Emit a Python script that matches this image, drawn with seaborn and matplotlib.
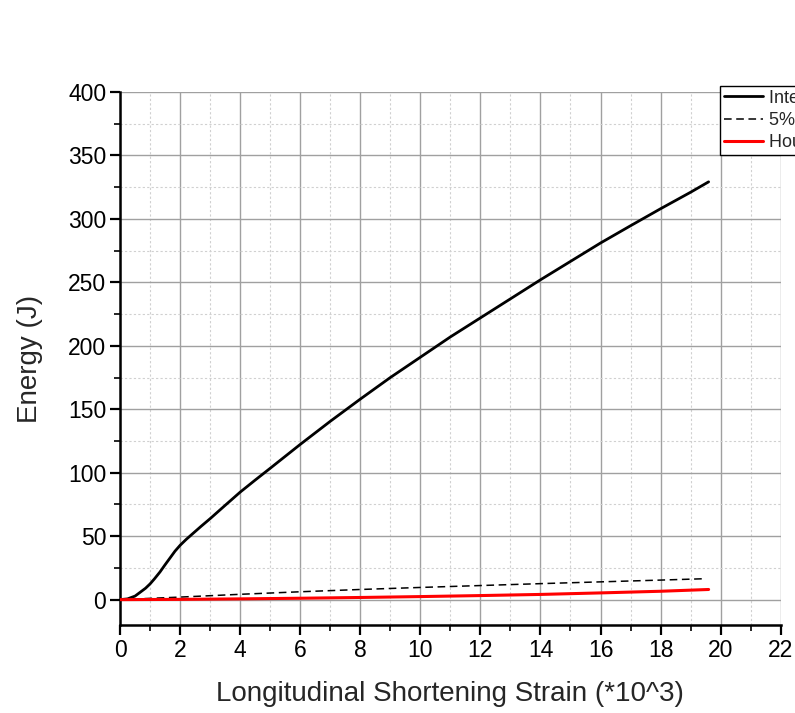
import matplotlib
matplotlib.use("Agg")
import matplotlib.pyplot as plt
import seaborn as sns
import pandas as pd
from matplotlib.ticker import MultipleLocator

# Strain (*10^3) and energies (J)
strain = [0.0, 0.25, 0.5, 0.67, 0.85, 1.0, 1.15, 1.33, 1.5, 1.67, 1.83, 2.0, 2.2, 2.44,
          2.7, 3.0, 3.5, 4.0, 4.5, 5.0, 6.0, 7.0, 8.0, 9.0, 10.0, 11.0, 12.0, 13.0,
          14.0, 15.0, 16.0, 17.0, 18.0, 19.0, 19.6]
internal = [0.0, 0.6, 2.8, 5.8, 9.0, 12.4, 16.5, 21.8, 27.5, 33.0, 38.2, 42.8, 47.4,
            52.4, 57.8, 63.8, 74.3, 84.7, 94.2, 103.5, 122.3, 140.5, 158.0, 175.0,
            191.0, 207.0, 222.0, 237.0, 252.0, 266.5, 281.0, 294.6, 308.0, 321.0, 329.2]
strain_5pct = [0.0, 2.0, 4.0, 6.0, 8.0, 10.0, 12.0, 14.0, 16.0, 18.0, 19.5]
five_pct = [0.0, 2.0, 4.2, 6.2, 8.0, 9.6, 11.1, 12.6, 14.0, 15.4, 16.5]
strain_hg = [0.0, 2.0, 4.0, 6.0, 8.0, 10.0, 12.0, 14.0, 16.0, 18.0, 19.6]
hourglass = [0.0, 0.2, 0.6, 1.1, 1.7, 2.4, 3.2, 4.1, 5.3, 6.6, 8.0]

labels = ["Internal Energy", "5% of Internal Energy", "Hourglass Energy"]

sns.set_style("white")
plt.rcParams["font.family"] = ["Liberation Sans", "DejaVu Sans"]

fig = plt.figure(figsize=(7.95, 7.13), dpi=100)
ax = fig.add_axes([0.151, 0.1234, 0.831, 0.7476])

df_int = pd.DataFrame({"x": strain, "y": internal})
df_5 = pd.DataFrame({"x": strain_5pct, "y": five_pct})
df_hg = pd.DataFrame({"x": strain_hg, "y": hourglass})

sns.lineplot(data=df_int, x="x", y="y", ax=ax, color="black", lw=2.0,
             label=labels[0], zorder=3)
sns.lineplot(data=df_5, x="x", y="y", ax=ax, color="black", lw=1.1,
             linestyle=(0, (5, 3)), label=labels[1], zorder=3)
sns.lineplot(data=df_hg, x="x", y="y", ax=ax, color="#ff0000", lw=2.2,
             label=labels[2], zorder=3)

ax.set_xlim(0, 22)
ax.set_ylim(-20, 400)
ax.xaxis.set_major_locator(MultipleLocator(2))
ax.xaxis.set_minor_locator(MultipleLocator(1))
ax.yaxis.set_major_locator(MultipleLocator(50))
ax.yaxis.set_minor_locator(MultipleLocator(25))

ax.grid(True, which="major", color="#a0a0a0", lw=1.0, ls="-", zorder=0)
ax.grid(True, which="minor", color="#d0d0d0", lw=0.8, ls=(0, (2, 2)), zorder=0)
# no grid line on the outer limits
for gl in ax.get_xgridlines():
    if abs(gl.get_xdata()[0] - 22) < 1e-6:
        gl.set_visible(False)
for gl in ax.get_ygridlines():
    if abs(gl.get_ydata()[0] - 400) < 1e-6:
        gl.set_visible(False)

for side in ("top", "right"):
    ax.spines[side].set_visible(False)
for side in ("left", "bottom"):
    ax.spines[side].set_color("black")
    ax.spines[side].set_linewidth(1.8)

ax.tick_params(axis="both", which="major", direction="out", length=7, width=1.6,
               labelsize=16.5, colors="black", bottom=True, left=True, pad=3)
ax.tick_params(axis="both", which="minor", direction="out", length=4, width=1.4,
               bottom=True, left=True)

ax.set_xlabel("Longitudinal Shortening Strain (*10^3)", fontsize=20, labelpad=14)
ax.set_ylabel("Energy (J)", fontsize=20, labelpad=18)

leg = ax.legend(loc="upper left", bbox_to_anchor=(720 / 795, 1 - 86 / 713),
                bbox_transform=fig.transFigure, frameon=True, fancybox=False,
                edgecolor="black", framealpha=1, fontsize=13, handlelength=2.2,
                borderpad=0.2, labelspacing=0.3, handletextpad=0.3,
                borderaxespad=0)
leg.get_frame().set_linewidth(1.0)
leg.set_zorder(5)

fig.savefig("out.png", dpi=100)
